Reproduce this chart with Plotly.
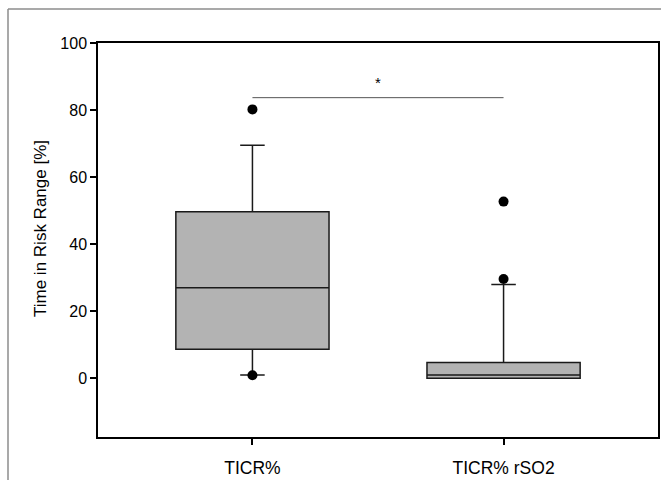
import plotly.graph_objects as go

categories = ["TICR%", "TICR% rSO2"]
q1 = [8.7, 0.0]
median = [27.0, 1.0]
q3 = [49.7, 4.7]
lower_whisker = [1.0, 0.0]
upper_whisker = [69.5, 28.0]
outlier_cat = ["TICR%", "TICR%", "TICR% rSO2", "TICR% rSO2"]
outlier_val = [80.2, 0.9, 52.7, 29.6]
sig_y = 83.7
sig_label = "*"
y_title = "Time in Risk Range [%]"
y_ticks = [0, 20, 40, 60, 80, 100]

W, H = 661, 480
L, R, T, B = 98, 3, 43, 43
pw, ph = W - L - R, H - T - B

fig = go.Figure()
fig.add_trace(go.Box(
    x=categories, q1=q1, median=median, q3=q3,
    lowerfence=lower_whisker, upperfence=upper_whisker,
    fillcolor="#b3b3b3", line=dict(color="#1a1a1a", width=1.5),
    whiskerwidth=0.16, width=0.61, boxpoints=False, showlegend=False,
    hoverinfo="skip",
))
fig.add_trace(go.Scatter(
    x=outlier_cat, y=outlier_val, mode="markers",
    marker=dict(color="black", size=10), showlegend=False,
))
fig.add_trace(go.Scatter(
    x=categories, y=[sig_y, sig_y], mode="lines",
    line=dict(color="#555555", width=1), showlegend=False,
))
fig.add_annotation(x=0.5, y=sig_y + 4.5, xref="x", yref="y", text=sig_label,
                   showarrow=False, font=dict(size=15, color="black"))

# y-axis title placed as in the reference (slightly above the plot centre)
fig.add_annotation(x=(40 - L) / pw, y=(H - B - 228) / ph, xref="paper", yref="paper",
                   text=y_title, textangle=-90, showarrow=False,
                   xanchor="center", yanchor="middle",
                   font=dict(size=17, color="black"))

# outer frame (gray border of the original image)
fx = (8 - L) / pw
fy = (H - B - 9) / ph
fig.add_shape(type="line", xref="paper", yref="paper",
              x0=fx, x1=1.2, y0=fy, y1=fy,
              line=dict(color="#8c8c8c", width=1.5))
fig.add_shape(type="line", xref="paper", yref="paper",
              x0=fx, x1=fx, y0=fy, y1=-0.3,
              line=dict(color="#8c8c8c", width=1.5))

font_family = "Liberation Sans, Arial, sans-serif"
fig.update_layout(
    width=W, height=H,
    margin=dict(l=L, r=R, t=T, b=B),
    paper_bgcolor="white", plot_bgcolor="white",
    font=dict(family=font_family, size=16, color="black"),
    xaxis=dict(
        type="category", range=[-0.615, 1.615], automargin=False,
        showline=True, linecolor="black", linewidth=1.5, mirror=True,
        ticks="outside", ticklen=6, tickcolor="black", tickwidth=1.5,
        ticklabelstandoff=8, showgrid=False, zeroline=False,
        tickfont=dict(size=17.5),
    ),
    yaxis=dict(
        range=[-17.5, 100], tickvals=y_ticks, automargin=False,
        showline=True, linecolor="black", linewidth=1.5, mirror=True,
        ticks="outside", ticklen=6, tickcolor="black", tickwidth=1.5,
        showgrid=False, zeroline=False, tickfont=dict(size=16),
    ),
)

fig.write_html("out.html", config={"displayModeBar": False},
               post_script="document.body.style.margin='0';document.body.style.overflow='hidden';")
